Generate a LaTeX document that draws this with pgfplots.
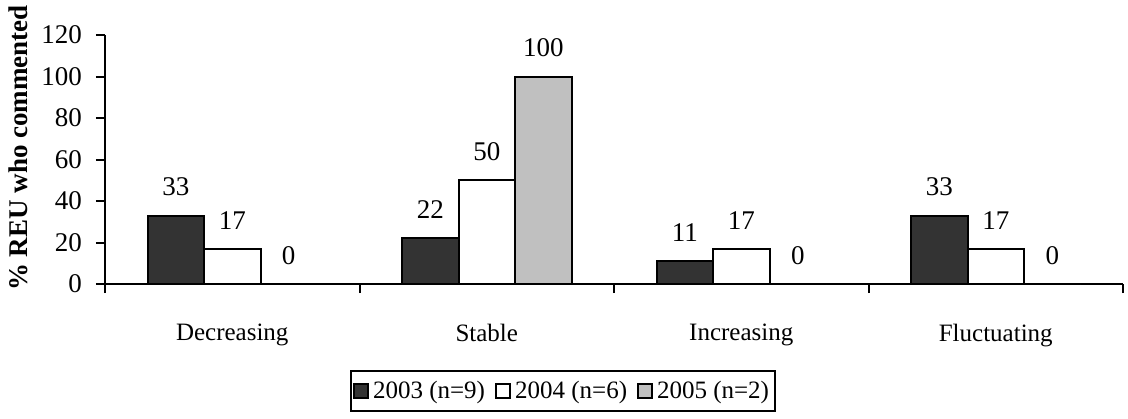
\documentclass[border=0pt]{standalone}
\usepackage{fontspec}
\setmainfont{Liberation Serif}
\usepackage{pgfplots}
\pgfplotsset{compat=1.18}
\definecolor{dark}{HTML}{333333}
\definecolor{lgray}{HTML}{C0C0C0}
\begin{document}
\begin{tikzpicture}
\path[use as bounding box] (-52.5pt,-67pt) rectangle (511.5pt,142pt);
\begin{axis}[
  scale only axis, width=509pt, height=124.5pt,
  at={(0,0)}, anchor=south west,
  font=\fontsize{12.5}{14}\selectfont,
  /pgf/number format/assume math mode=true,
  axis lines*=left,
  axis line style={line width=1pt},
  ybar=0pt, bar width=0.222,
  xmin=-0.5, xmax=3.5, ymin=0, ymax=120,
  ytick={0,20,...,120},
  yticklabel style={font=\fontsize{13.5}{15}\selectfont, xshift=-3.5pt},
  xtick={-0.5,0.5,1.5,2.5,3.5},
  x tick label as interval,
  xticklabels={Decreasing,Stable,Increasing,Fluctuating},
  xticklabel style={yshift=-12pt},
  tick align=outside, major tick length=4.5pt,
  tick style={line width=1pt, black},
  nodes near coords,
  every node near coord/.append style={yshift=6pt, font=\fontsize{13.5}{15}\selectfont, black},
  ylabel={\% REU who commented},
  every axis y label/.style={at={(axis description cs:-0.0855,-0.056)}, rotate=90, anchor=west, font=\fontsize{13.5}{15}\selectfont\bfseries},
  legend style={at={(axis description cs:0.45,-0.43)}, anchor=center, draw=black, line width=1pt,
    font=\fontsize{12.5}{14}\selectfont, inner xsep=1pt, inner ysep=3pt,
    /tikz/every even column/.append style={column sep=3pt}},
  legend columns=-1,
  legend image code/.code={\draw[#1, line width=1pt] (0pt,-3.5pt) rectangle (7pt,3.5pt);},
]
\addplot[fill=dark, draw=black, line width=1pt] coordinates {(0,33) (1,22) (2,11) (3,33)};
\addplot[fill=white, draw=black, line width=1pt] coordinates {(0,17) (1,50) (2,17) (3,17)};
\addplot[fill=lgray, draw=black, line width=1pt] coordinates {(0,0) (1,100) (2,0) (3,0)};
\legend{2003 (n=9),2004 (n=6),2005 (n=2)}
\end{axis}
\end{tikzpicture}
\end{document}
